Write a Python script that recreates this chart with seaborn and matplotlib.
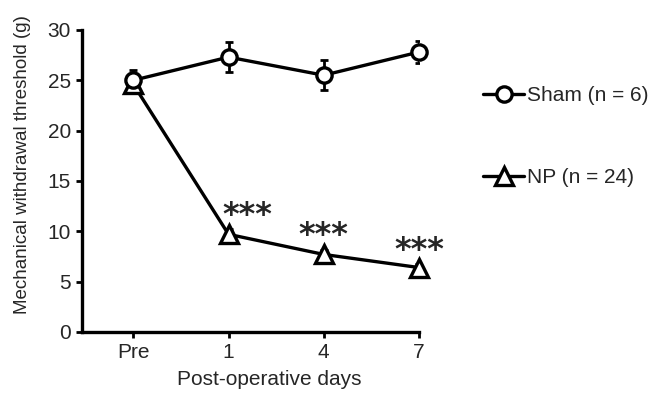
import numpy as np
import pandas as pd
import matplotlib
matplotlib.use('Agg')
import matplotlib.pyplot as plt
import seaborn as sns

# --- data ---
days = ['Pre', '1', '4', '7']
sham_mean = [25.0, 27.3, 25.5, 27.8]
sham_err = [1.0, 1.5, 1.5, 1.1]
np_mean = [24.6, 9.7, 7.7, 6.4]
np_err = [0.6, 0.5, 0.4, 0.4]
star_y = [11.55, 9.6, 8.1]
star_dx = [0.2, 0.0, 0.0]

sns.set_style('ticks')
plt.rcParams['font.family'] = ['Liberation Sans', 'DejaVu Sans']

x = np.arange(len(days))
sham = pd.DataFrame({'day': x, 'value': sham_mean})
npg = pd.DataFrame({'day': x, 'value': np_mean})

fig = plt.figure(figsize=(6.66, 3.99), dpi=100)
ax = fig.add_axes([0.123, 0.168, 0.506, 0.757])

ax.errorbar(x, np_mean, yerr=np_err, fmt='none', ecolor='black', elinewidth=2, capsize=3, capthick=2, zorder=2)
ax.errorbar(x, sham_mean, yerr=sham_err, fmt='none', ecolor='black', elinewidth=2, capsize=3, capthick=2, zorder=2)

sns.lineplot(data=npg, x='day', y='value', color='black', marker='^', markersize=13,
             markerfacecolor='white', markeredgecolor='black', markeredgewidth=2.4,
             linewidth=2.4, ax=ax, zorder=3, clip_on=False, label='NP (n = 24)')
sns.lineplot(data=sham, x='day', y='value', color='black', marker='o', markersize=11,
             markerfacecolor='white', markeredgecolor='black', markeredgewidth=2.4,
             linewidth=2.4, ax=ax, zorder=4, clip_on=False, label='Sham (n = 6)')

# significance stars
for i, (yy, dx) in enumerate(zip(star_y, star_dx)):
    ax.text(i + 1 + dx, yy, '***', ha='center', va='center', fontsize=23,
            fontweight='bold', family='DejaVu Sans')

ax.set_xlim(-0.54, 3.0)
ax.set_ylim(0, 30)
ax.set_xticks(x)
ax.set_xticklabels(days)
ax.set_yticks(range(0, 31, 5))
ax.tick_params(labelsize=15, width=2, length=4, color='black', pad=4)
for s in ['left', 'bottom']:
    ax.spines[s].set_linewidth(2.4)
    ax.spines[s].set_color('black')
sns.despine(ax=ax)

ax.set_xlabel('Post-operative days', fontsize=15)
ax.set_ylabel('Mechanical withdrawal threshold (g)', fontsize=13.5)
ax.xaxis.set_label_coords(0.555, -0.125)
ax.yaxis.set_label_coords(-0.152, 0.553)

handles, labels = ax.get_legend_handles_labels()
leg = ax.legend(handles[::-1], labels[::-1], loc='upper left', bbox_to_anchor=(1.134, 0.875),
                frameon=False, fontsize=15, handlelength=2.0, handletextpad=0.1, labelspacing=3.0)

fig.savefig('out.png', dpi=100)
